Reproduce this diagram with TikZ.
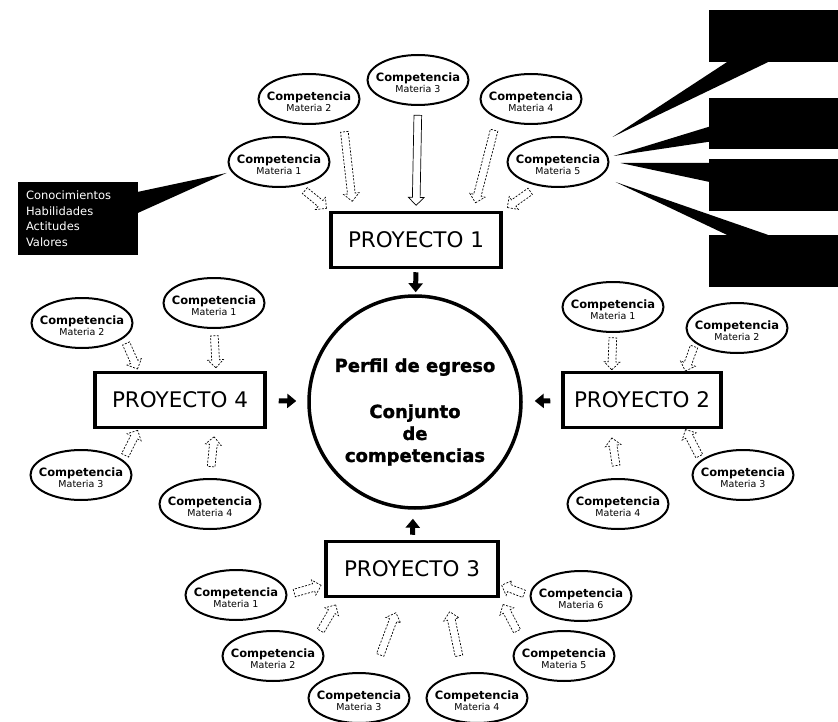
\documentclass[tikz,border=0pt]{standalone}
\usepackage{fontspec}
\setmainfont{DejaVu Sans}
\newfontfamily\gruesa{DejaVu Sans}[UprightFont=* Bold, FakeBold=1.5]
\usetikzlibrary{calc}
\usetikzlibrary{arrows.meta}
\usetikzlibrary{shapes.geometric,shapes.arrows}
\tikzset{
comp/.style={draw, ellipse, line width=2pt, minimum width=101pt, minimum height=50pt, inner xsep=-7pt, inner ysep=0pt, align=center},
proy/.style={draw, line width=3.5pt, minimum height=55pt, font=\fontsize{21.5}{24}\selectfont},
hueca/.style={single arrow, draw, line width=.7pt, dash pattern=on 2pt off 1.5pt, inner sep=3.5pt, single arrow head extend=4pt, sloped, allow upside down},
flecha/.style={line width=5pt, -{Triangle[length=9pt,width=14pt]}},
negro/.style={fill=black, inner sep=0pt},
}
\newcommand{\compmat}[1]{{\fontsize{11.5}{12}\selectfont\bfseries\rule{0pt}{14pt}Competencia}\\[-1pt]{\fontsize{9.5}{10}\selectfont Materia #1}}
\begin{document}
\begin{tikzpicture}[x=1pt,y=-1pt]
\useasboundingbox (0,0) rectangle (838,722);
\node[proy, minimum width=170pt] (p1) at (416,240) {PROYECTO 1};
\node[proy, minimum width=158pt] (p2) at (642,400) {PROYECTO 2};
\node[proy, minimum width=172pt] (p3) at (412,569) {PROYECTO 3};
\node[proy, minimum width=170pt] (p4) at (180,400) {PROYECTO 4};
\node[draw, circle, line width=3.5pt, minimum size=212pt] (perfil) at (415,402) {};
\node[font=\fontsize{18}{22}\gruesa, align=center] (ptxt) at ($(perfil)+(0,10)$) {Perfil de egreso\\[24pt]Conjunto\\de\\competencias};
\foreach \n/\x/\y/\m in {11/279/162/1,12/309/99/2,13/418/80/3,14/531/99/4,15/558/162/5,
  21/613/307/1,22/737/328/2,23/743/475/3,24/618/504/4,
  31/236/595/1,32/273/656/2,33/359/698/3,34/477/698/4,35/564/656/5,36/581/596/6,
  41/214/303/1,42/82/323/2,43/81/475/3,44/210/504/4}
  \node[comp] (m\n) at (\x,\y) {\compmat{\m}};
\foreach \a/\b/\l in {m11.-50/p1.north west/28, m12.-30/p1.155/70, m14.-150/p1.27/75, m15.-130/p1.north east/28,
  m21.south/p2.136/32, m22.-160/p2.34/26, m23.160/p2.-34/30, m24.north/p2.-137/28,
  m41.south/p4.39/32, m42.-20/p4.145/28, m43.20/p4.-145/28, m44.north/p4.-40/30,
  m31.east/p3.190/28, m32.20/p3.-158/30, m33.60/p3.-110/45, m34.120/p3.-40/45, m35.160/p3.south east/30, m36.west/p3.-10/24}
  \path (\a) -- node[hueca, minimum height=\l pt] {} (\b);
\path (m13.south) -- node[hueca, solid, minimum height=90pt] {} (p1.north);
\draw[flecha, shorten <=3pt, shorten >=2pt] (p1) -- (perfil);
\draw[flecha, shorten <=11pt, shorten >=12pt] (p2) -- (perfil);
\draw[flecha, shorten <=5pt, shorten >=9pt] (p3) -- (perfil);
\draw[flecha, shorten <=12pt, shorten >=11pt] (p4) -- (perfil);
\node[negro, text=white, align=left, text width=104pt, inner xsep=8pt, minimum height=73pt, font=\fontsize{11.5}{15.5}\selectfont] (cono) at (78,218.5) {Conocimientos\\Habilidades\\Actitudes\\Valores};
\node[negro, minimum width=129pt, minimum height=52pt] (ra) at (773.5,36) {};
\node[negro, minimum width=129pt, minimum height=51pt] (rb) at (773.5,123.5) {};
\node[negro, minimum width=129pt, minimum height=52pt] (rc) at (773.5,185) {};
\node[negro, minimum width=129pt, minimum height=52pt] (rd) at (773.5,261) {};
\fill ($(m11.west)+(-1,11)$) -- ($(cono.north east)+(0,10)$) -- ($(cono.north east)+(0,31)$) -- cycle;
\fill ($(m15.east)+(3,-25)$) -- ($(ra.south west)+(18,0)$) -- ($(ra.south west)+(59,0)$) -- cycle;
\fill ($(m15.east)+(4,-6)$) -- ($(rb.north west)+(0,29)$) -- ($(rb.north west)+(0,44)$) -- cycle;
\fill ($(m15.east)+(11,1)$) -- ($(rc.north west)+(0,4)$) -- ($(rc.north west)+(0,23)$) -- cycle;
\fill ($(m15.east)+(6,20)$) -- ($(rd.north west)+(18,0)$) -- ($(rd.north west)+(59,0)$) -- cycle;
\end{tikzpicture}
\end{document}
